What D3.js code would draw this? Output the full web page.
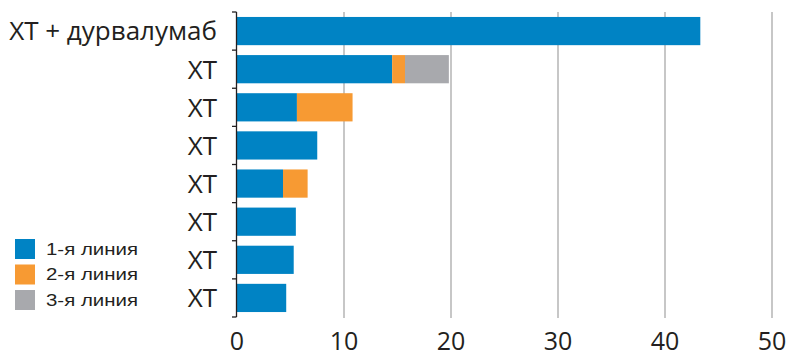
<!DOCTYPE html>
<html>
<head>
<meta charset="utf-8">
<script src="https://cdn.jsdelivr.net/npm/d3@7"></script>
<style>
  body { margin: 0; background: #fff; }
  .cat { font-family: "Open Sans", sans-serif; font-size: 26px; fill: #231f20; }
  .tick-label { font-family: "Open Sans", sans-serif; font-size: 25px; fill: #231f20; }
  .legend { font-family: "Liberation Sans", Arial, sans-serif; font-size: 17px; fill: #231f20; }
</style>
</head>
<body>
<svg id="chart" width="795" height="362"></svg>
<script>
const categories = ["ХТ + дурвалумаб", "ХТ", "ХТ", "ХТ", "ХТ", "ХТ", "ХТ", "ХТ"];
const line1 = [43.3, 14.5, 5.6, 7.5, 4.3, 5.5, 5.3, 4.6];
const line2 = [0, 1.2, 5.2, 0, 2.3, 0, 0, 0];
const line3 = [0, 4.1, 0, 0, 0, 0, 0, 0];
const seriesNames = ["1-я линия", "2-я линия", "3-я линия"];
const colors = ["#0083c4", "#f79a33", "#a8a9ad"];
const xTicks = [0, 10, 20, 30, 40, 50];

const svg = d3.select("#chart");
const margin = { top: 12, left: 237, right: 23, bottom: 45 };
const width = 795, height = 362;

const x = d3.scaleLinear().domain([0, 50]).range([margin.left, width - margin.right]);
const y = d3.scaleBand()
  .domain(d3.range(categories.length))
  .range([margin.top, height - margin.bottom])
  .paddingInner(0.26)
  .paddingOuter(0.13);

// grid
svg.append("g")
  .selectAll("line")
  .data(xTicks.slice(1))
  .join("line")
  .attr("x1", (d) => x(d)).attr("x2", (d) => x(d))
  .attr("y1", margin.top).attr("y2", height - margin.bottom + 1)
  .attr("stroke", "#a9a9a9").attr("stroke-width", 1.3);

// stacked bars
const rows = categories.map((c, i) => ({ i, v: [line1[i], line2[i], line3[i]] }));
const stack = d3.stack().keys([0, 1, 2]).value((d, k) => d.v[k]);
const layers = stack(rows);

svg.append("g")
  .selectAll("g")
  .data(layers)
  .join("g")
  .attr("fill", (d, k) => colors[k])
  .selectAll("rect")
  .data((d) => d.filter((s) => s[1] > s[0]))
  .join("rect")
  .attr("x", (d) => x(d[0]))
  .attr("width", (d) => x(d[1]) - x(d[0]))
  .attr("y", (d) => y(d.data.i))
  .attr("height", y.bandwidth());

// y axis line with ticks at band boundaries
const yAxis = svg.append("g");
yAxis.append("line")
  .attr("x1", margin.left - 0.5).attr("x2", margin.left - 0.5)
  .attr("y1", margin.top).attr("y2", height - margin.bottom)
  .attr("stroke", "#231f20").attr("stroke-width", 1.3);
const step = (height - margin.bottom - margin.top) / categories.length;
yAxis.selectAll("line.t")
  .data(d3.range(categories.length + 1))
  .join("line")
  .attr("class", "t")
  .attr("x1", margin.left - 5).attr("x2", margin.left - 0.5)
  .attr("y1", (d) => margin.top + d * step).attr("y2", (d) => margin.top + d * step)
  .attr("stroke", "#231f20").attr("stroke-width", 1.3);

// category labels
svg.append("g")
  .selectAll("text")
  .data(categories)
  .join("text")
  .attr("class", "cat")
  .attr("text-anchor", "end")
  .attr("x", 217)
  .attr("y", (d, i) => y(i) + y.bandwidth() / 2)
  .attr("dy", "0.36em")
  .text((d) => d);

// x tick labels
svg.append("g")
  .selectAll("text")
  .data(xTicks)
  .join("text")
  .attr("class", "tick-label")
  .attr("text-anchor", "middle")
  .attr("x", (d) => x(d))
  .attr("y", 350)
  .text((d) => d);

// legend
const legend = svg.append("g").attr("transform", "translate(15,239)");
legend.selectAll("rect")
  .data(seriesNames)
  .join("rect")
  .attr("x", 0)
  .attr("y", (d, i) => i * 25.5)
  .attr("width", 20).attr("height", 20)
  .attr("fill", (d, i) => colors[i]);
legend.selectAll("text")
  .data(seriesNames)
  .join("text")
  .attr("class", "legend")
  .attr("x", 31)
  .attr("y", (d, i) => i * 25.5 + 10)
  .attr("dy", "0.35em")
  .attr("textLength", 92)
  .attr("lengthAdjust", "spacingAndGlyphs")
  .text((d) => d);
</script>
</body>
</html>
